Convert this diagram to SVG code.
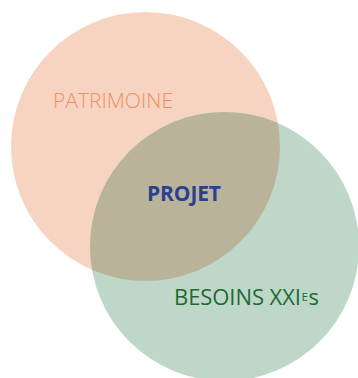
<svg xmlns="http://www.w3.org/2000/svg" width="358" height="378" viewBox="0 0 358 378">
<style>
.lbl{font-family:"Open Sans","Noto Sans","Liberation Sans",sans-serif;font-size:21px}
.grn{fill:#1D6A35;font-size:22px}
</style>
<defs>
<clipPath id="c1"><circle cx="145.5" cy="146.5" r="134.5"/></clipPath>
</defs>
<rect width="358" height="378" fill="#ffffff"/>
<g id="patrimoine">
<circle cx="145.5" cy="146.5" r="134.5" fill="#F7D4C1"/>
</g>
<g id="besoins">
<circle cx="224.5" cy="246.5" r="134.5" fill="#BFD7C8"/>
</g>
<g id="projet">
<circle cx="224.5" cy="246.5" r="134.5" fill="#B9B499" clip-path="url(#c1)"/>
</g>
<g id="connectors"/>
<text class="lbl" x="53" y="107.5" fill="#EE9162" font-weight="300" textLength="120">PATRIMOINE</text>
<text class="lbl" x="147" y="201" fill="#2B4090" font-weight="700" textLength="74">PROJET</text>
<text class="lbl grn" x="174" y="305" textLength="127" lengthAdjust="spacing">BESOINS XXI</text>
<text class="lbl grn" x="301.5" y="300.5" style="font-size:11.5px">E</text>
<text class="lbl grn" x="308.5" y="305">s</text>
</svg>
